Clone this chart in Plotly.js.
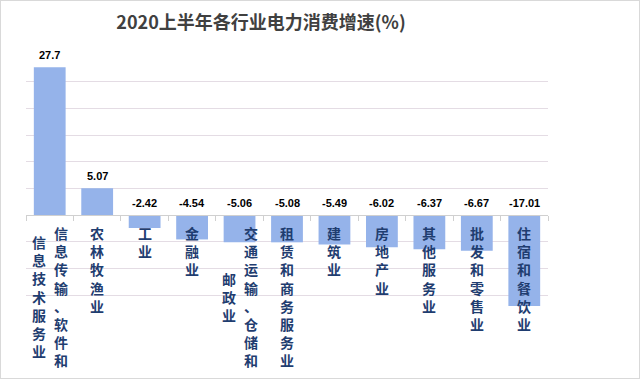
<!DOCTYPE html>
<html>
<head>
<meta charset="utf-8">
<script src="https://cdn.plot.ly/plotly-3.0.1.min.js"></script>
<style>
  html, body { margin: 0; padding: 0; background: #ffffff; }
  #chart { width: 638px; height: 377px; border: 1px solid #d9d9d9; }
</style>
</head>
<body>
<div id="chart"></div>
<script>
// Data
var categories = [
  "信息传输、软件和信息技术服务业",
  "农林牧渔业",
  "工业",
  "金融业",
  "交通运输、仓储和邮政业",
  "租赁和商务服务业",
  "建筑业",
  "房地产业",
  "其他服务业",
  "批发和零售业",
  "住宿和餐饮业"
];
var growth = [27.7, 5.07, -2.42, -4.54, -5.06, -5.08, -5.49, -6.02, -6.37, -6.67, -17.01];
var valueLabels = ["27.7", "5.07", "-2.42", "-4.54", "-5.06", "-5.08", "-5.49", "-6.02", "-6.37", "-6.67", "-17.01"];
var chartTitle = "2020上半年各行业电力消费增速(%)";

// Styling
var barColor = "#95b3ea";
var labelColor = "#1f3d70";
var gridColor = "#e4dce4";
var axisColor = "#d0d0d0";
var maxChars = 8;
var catFontSize = 14;
var pitch = catFontSize * 1.3;

var annotations = [];

// value labels
categories.forEach(function (c, i) {
  annotations.push({
    x: c, y: Math.max(growth[i], 0), xref: "x", yref: "y",
    text: valueLabels[i], showarrow: false,
    yanchor: "bottom", yshift: 4,
    font: { family: "Liberation Sans, Arial, sans-serif", size: 11, color: "#000000", weight: "bold" }
  });
});

// vertical category labels
categories.forEach(function (c, i) {
  var chars = Array.from(c);
  var col1 = chars.slice(0, maxChars);
  var col2 = chars.slice(maxChars);
  var twoCols = col2.length > 0;
  annotations.push({
    x: c, y: 0, xref: "x", yref: "y",
    text: col1.join("<br>"), showarrow: false,
    xanchor: "center", yanchor: "top", yshift: -6,
    xshift: twoCols ? 11 : 0,
    font: { family: "Noto Sans CJK SC, sans-serif", size: catFontSize, color: labelColor, weight: "bold" }
  });
  if (twoCols) {
    annotations.push({
      x: c, y: 0, xref: "x", yref: "y",
      text: col2.join("<br>"), showarrow: false,
      xanchor: "center", yanchor: "top",
      yshift: -6 - (col1.length - col2.length) * pitch / 2,
      xshift: -11,
      font: { family: "Noto Sans CJK SC, sans-serif", size: catFontSize, color: labelColor, weight: "bold" }
    });
  }
});

var trace = {
  type: "bar",
  x: categories,
  y: growth,
  marker: { color: barColor },
  hoverinfo: "x+y"
};

var layout = {
  width: 638,
  height: 377,
  margin: { l: 25, r: 91, t: 54, b: 56, pad: 0 },
  paper_bgcolor: "#ffffff",
  plot_bgcolor: "#ffffff",
  bargap: 0.33,
  showlegend: false,
  title: {
    text: chartTitle,
    font: { family: "Noto Sans CJK SC, sans-serif", size: 18, color: "#404040", weight: "bold" },
    x: 260 / 638, xref: "container", xanchor: "center",
    y: 1 - 22 / 377, yref: "container", yanchor: "middle"
  },
  xaxis: {
    type: "category",
    showticklabels: false,
    showgrid: false,
    showline: true,
    linecolor: axisColor,
    linewidth: 1,
    ticks: "outside",
    tickson: "boundaries",
    ticklen: 5,
    tickcolor: axisColor,
    anchor: "free",
    position: 0.4,
    zeroline: false
  },
  yaxis: {
    range: [-20, 30],
    dtick: 5,
    showticklabels: false,
    showgrid: true,
    gridcolor: gridColor,
    gridwidth: 1,
    zeroline: false,
    showline: false,
    ticks: ""
  },
  annotations: annotations
};

Plotly.newPlot("chart", [trace], layout, { displayModeBar: false, staticPlot: true });
</script>
</body>
</html>
